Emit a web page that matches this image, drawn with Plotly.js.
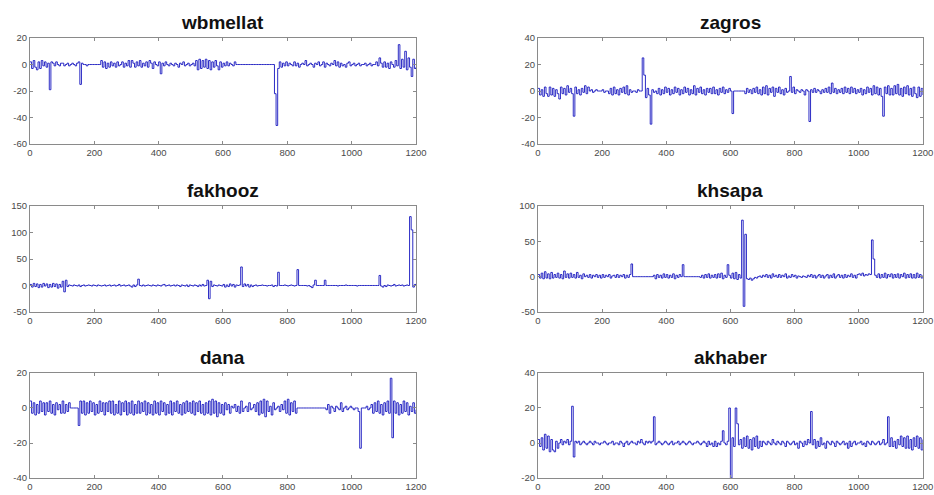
<!DOCTYPE html>
<html>
<head>
<meta charset="utf-8">
<script src="https://cdn.plot.ly/plotly-3.0.1.min.js"></script>
<style>html,body{margin:0;padding:0;background:#fff}#chart{width:934px;height:495px}</style>
</head>
<body>
<div id="chart"></div>
<script>
// Series sampled every 5 time steps, t = 0 .. 1200
const wbmellat = [
2,-3,3,-2,-4,2,-3,3,-1,2,
-2,1,-19,2,1,-1,2,0,-1,1,
1,-1,0,1,-1,0,1,0,-1,1,
2,-15,1,0,0,-1,0,0,0,0,
0,0,0,0,3,-2,2,-3,1,-2,
2,-1,1,-2,2,-1,0,2,-2,1,
-1,3,-2,3,1,-2,2,-1,3,-2,
1,-1,2,-2,3,1,-3,2,0,-1,
2,-7,1,-1,2,0,-1,1,0,-1,
1,0,-2,1,0,2,-1,0,1,-1,
0,1,-1,3,-4,4,-3,3,-2,4,
-3,3,-4,2,-2,3,-1,-4,2,-2,
1,-1,2,-1,1,0,-1,2,0,0,
0,0,0,0,0,0,0,0,0,0,
0,0,0,0,0,0,0,0,0,0,
0,0,-22,-46,-3,2,-2,1,-1,2,
-1,1,0,-1,2,-1,1,-2,0,1,
0,3,-1,0,1,0,-2,1,0,2,
-1,0,2,-2,1,0,-1,1,0,3,
-1,2,-2,1,-1,0,-2,1,2,-1,
0,1,-1,0,1,-1,0,0,1,-1,
0,1,-1,0,0,2,-1,5,1,-2,
2,-2,1,-3,2,0,-2,3,-1,15,
-3,4,-2,10,-4,5,-2,-9,4,-3,
-2];
const zagros = [
2,-3,1,-4,3,-2,-4,3,-3,2,
-4,1,-2,-6,3,-2,2,-3,4,-1,
2,-2,-19,3,-2,1,-3,2,-1,4,
-2,3,0,1,-1,0,1,0,0,0,
1,-1,0,0,-2,2,-3,3,-2,1,
-3,2,-1,3,-2,4,-3,1,-1,0,
0,-1,1,0,0,25,12,-5,2,-3,
-25,1,-1,0,-2,2,-3,1,-2,3,
-1,2,-3,1,-2,3,-1,2,-3,1,
-2,3,-1,2,-3,1,-2,4,-3,2,
-1,3,-2,1,-3,2,-1,2,-2,3,
-2,1,-3,2,-1,3,-2,1,-1,2,
0,-17,0,0,0,0,0,0,0,-2,
2,-1,1,-2,2,-1,3,-2,1,-3,
3,-2,4,-3,2,-1,3,-4,2,-1,
3,-2,1,-3,2,-1,0,11,-1,3,
-2,1,0,-1,1,0,-3,1,0,-23,
1,-1,2,-1,1,0,-2,1,-1,2,
-1,3,-2,6,-1,2,-2,1,-1,2,
-2,3,-1,2,-2,3,-1,2,-2,1,
-1,2,-3,1,-2,3,-1,2,-3,4,
-2,3,-3,2,-4,-19,3,-2,4,-3,
2,-3,4,-2,5,-3,2,-4,3,-2,
4,-3,2,-4,3,-2,-5,3,-4,2,
-3];
const fakhooz = [
2,-3,4,-2,3,-4,2,-3,4,-1,
3,-4,2,-3,4,-2,3,-5,2,-3,
8,-12,10,-2,1,0,-1,1,0,-1,
1,-2,0,1,-1,0,1,0,-1,1,
0,-1,1,0,-1,0,1,-1,0,1,
-1,0,1,-1,0,2,-1,0,1,-1,
0,1,-1,-3,1,-2,1,12,0,-1,
1,-1,0,1,0,-1,1,0,-1,1,
0,-1,1,2,-1,0,1,-1,0,1,
-1,1,0,-2,1,0,-1,1,-2,1,
0,-1,1,0,-2,1,-1,2,-1,0,
10,-25,8,-2,1,0,-1,1,0,-1,
2,-3,1,-2,3,-1,2,-3,1,0,
1,35,-2,3,-1,2,-3,1,-2,0,
1,-1,0,0,1,0,0,-1,0,0,
1,-2,0,-1,25,0,0,0,1,0,
-1,0,1,0,-1,0,30,0,0,0,
0,0,-1,0,-2,-4,1,10,0,0,
0,0,0,10,0,0,0,0,0,0,
0,-1,0,0,0,0,1,0,0,0,
0,0,0,-1,0,0,0,0,0,0,
0,0,0,0,0,0,0,19,-1,-3,
0,-2,1,0,-1,0,2,-1,0,1,
0,1,-1,0,1,0,130,105,-3,2,
1];
const khsapa = [
3,-2,5,-3,7,-2,4,-3,6,-2,
3,-1,5,-2,3,-3,8,-1,4,-2,
5,-1,3,-2,6,-1,2,-3,4,0,
2,-1,3,-2,2,0,3,-1,2,-2,
3,-1,2,0,3,-2,1,2,-1,3,
-1,2,0,3,-2,2,-1,3,18,0,
0,0,0,0,0,0,0,0,0,0,
0,0,2,-3,3,-1,2,-2,4,-1,
3,-2,2,-1,4,-3,2,-1,3,0,
17,0,0,0,0,0,0,0,0,0,
0,-1,2,-2,3,-1,4,-2,2,-1,
3,-2,4,-1,5,-3,2,-1,17,2,
-2,5,-3,6,-4,3,-2,80,-42,60,
-3,-4,-2,-5,-3,-1,-2,0,1,-1,
2,0,3,-1,2,-2,4,0,2,-1,
3,-1,2,0,4,-2,1,-1,3,0,
2,-2,1,0,-1,1,0,-1,2,0,
3,-1,2,-2,1,3,-1,2,-2,1,
3,-2,2,-1,4,-2,1,3,-1,2,
-2,3,-1,2,0,4,-1,2,-2,3,
4,2,5,1,3,2,4,3,52,25,
2,-1,4,-2,3,-1,5,-2,3,0,
4,-2,3,-1,4,-2,3,0,5,-2,
3,-1,4,-2,3,-2,5,-1,3,-2,
2];
const dana = [
4,-3,3,-4,2,-3,4,-2,3,-4,
3,-2,4,-3,2,-4,3,-1,2,-3,
4,-3,2,-2,3,0,0,0,0,0,
-10,4,-3,4,-4,3,-3,4,-2,3,
-4,2,-3,4,-2,3,-4,3,-2,4,
-3,4,-4,2,-3,4,-4,3,-2,4,
-4,3,-3,4,-4,2,-3,4,-3,3,
-2,4,-4,3,-3,2,-4,4,-3,3,
-4,4,-2,3,-4,2,-3,4,-4,3,
-2,4,-3,2,-4,3,-3,4,-2,3,
-3,4,-4,3,-2,4,-3,2,-4,3,
-3,4,-4,5,-3,4,-5,3,-3,2,
-4,3,-1,2,-3,1,0,2,-2,1,
-3,4,-2,0,1,-2,3,-1,0,2,
-2,3,-4,4,-3,5,-5,4,-2,1,
-4,3,-1,0,1,-2,2,-1,4,-3,
5,-4,3,-2,4,-3,0,0,0,0,
0,0,0,0,0,0,0,0,0,0,
0,0,0,0,-1,2,-3,1,0,-2,
1,0,-1,3,-2,0,1,-1,0,1,
0,-1,0,0,-2,-23,0,0,0,1,
-1,0,2,-3,3,-2,4,-3,2,-4,
3,-2,4,-3,17,-17,4,-3,3,-4,
2,-3,4,-2,3,-4,1,-2,3,-3,
-1];
const akhaber = [
2,-2,3,-4,5,-3,4,-5,2,-4,
-5,1,-3,0,2,-1,1,0,2,-1,
1,21,-8,1,0,1,-1,0,1,0,
-1,0,1,0,-1,1,0,0,-1,0,
0,1,0,-1,0,0,1,-1,0,0,
-1,1,0,-2,0,1,-1,0,1,0,
0,-1,1,0,2,0,-1,1,0,1,
0,1,15,-1,0,1,0,-1,0,1,
0,-1,0,1,-1,0,0,1,-1,0,
1,0,-1,0,1,0,-1,0,0,1,
0,-1,0,1,0,-2,1,-1,0,-2,
1,-2,0,-1,1,7,0,-1,1,20,
-20,3,-2,20,11,-1,2,-3,3,-2,
4,-3,2,-4,3,-2,4,-3,1,-2,
1,0,-1,1,0,-1,2,0,-1,1,
0,-1,1,0,-2,1,0,-1,0,1,
-1,0,-3,1,0,-2,1,-1,2,0,
18,-1,2,-3,1,-2,3,-1,0,-3,
1,0,-1,1,0,-2,1,0,-1,0,
1,-1,0,-3,1,-2,0,1,-1,0,
0,1,-1,0,-2,1,0,-1,1,0,
-1,0,1,-1,0,2,-1,0,15,-2,
3,-2,1,-3,2,-1,4,-2,3,-3,
4,-3,2,-4,3,-2,4,-3,3,-4,
2];

const titles = ['wbmellat','zagros','fakhooz','khsapa','dana','akhaber'];
const series = [wbmellat, zagros, fakhooz, khsapa, dana, akhaber];
const xTickVals = [0,200,400,600,800,1000,1200];
const xTickText = ['0','200','400','600','800','1000','1200'];
const yTickVals = [[-60,-40,-20,0,20],[-40,-20,0,20,40],[-50,0,50,100,150],[-50,0,50,100],[-40,-20,0,20],[-20,0,20,40]];
const yTickText = [['-60','-40','-20','0','20'],['-40','-20','0','20','40'],['-50','0','50','100','150'],['-50','0','50','100'],['-40','-20','0','20'],['-20','0','20','40']];
const yRanges = [[-60,20],[-40,40],[-50,150],[-50,100],[-40,20],[-20,40]];

const xDom = [[0.0321,0.4454],[0.576,0.988]];
const yDom = [[0.709,0.9232],[0.3697,0.5838],[0.0343,0.2465]];

const data = [];
const layout = {
  width: 934, height: 495,
  margin: {l:0, r:0, t:0, b:0},
  paper_bgcolor: '#fff', plot_bgcolor: '#fff',
  showlegend: false,
  font: {family: 'Liberation Sans, Arial, sans-serif', color: '#444'},
  annotations: []
};
const axisCommon = {
  showline: true, linecolor: '#8a8a8a', linewidth: 1, mirror: 'ticks',
  ticks: 'inside', ticklen: 3, tickcolor: '#8a8a8a', tickwidth: 1,
  showgrid: false, zeroline: false, fixedrange: true,
  tickfont: {size: 9.5, color: '#4a4a4a', family: 'Liberation Sans, Arial, sans-serif'}
};
for (let i = 0; i < 6; i++) {
  const col = i % 2, row = Math.floor(i / 2);
  const n = i + 1;
  const xa = n === 1 ? 'x' : 'x' + n;
  const ya = n === 1 ? 'y' : 'y' + n;
  data.push({
    type: 'scatter', mode: 'lines', x0: 0, dx: 5, y: series[i],
    xaxis: xa, yaxis: ya,
    line: {color: 'rgb(20,20,190)', width: 0.9, shape: 'hv'}, hoverinfo: 'skip'
  });
  layout['xaxis' + (n === 1 ? '' : n)] = Object.assign({}, axisCommon, {
    domain: xDom[col], anchor: ya, range: [0, 1200],
    tickmode: 'array', tickvals: xTickVals, ticktext: xTickText
  });
  layout['yaxis' + (n === 1 ? '' : n)] = Object.assign({}, axisCommon, {
    domain: yDom[row], anchor: xa, range: yRanges[i],
    tickmode: 'array', tickvals: yTickVals[i], ticktext: yTickText[i]
  });
  layout.annotations.push({
    text: '<b>' + titles[i] + '</b>', xref: 'paper', yref: 'paper',
    x: (xDom[col][0] + xDom[col][1]) / 2, y: yDom[row][1],
    xanchor: 'center', yanchor: 'bottom', yshift: 3, showarrow: false,
    font: {size: 19, color: '#111', family: 'Liberation Sans, Arial, sans-serif'}
  });
}
Plotly.newPlot('chart', data, layout, {staticPlot: true, displayModeBar: false});
</script>
</body>
</html>
